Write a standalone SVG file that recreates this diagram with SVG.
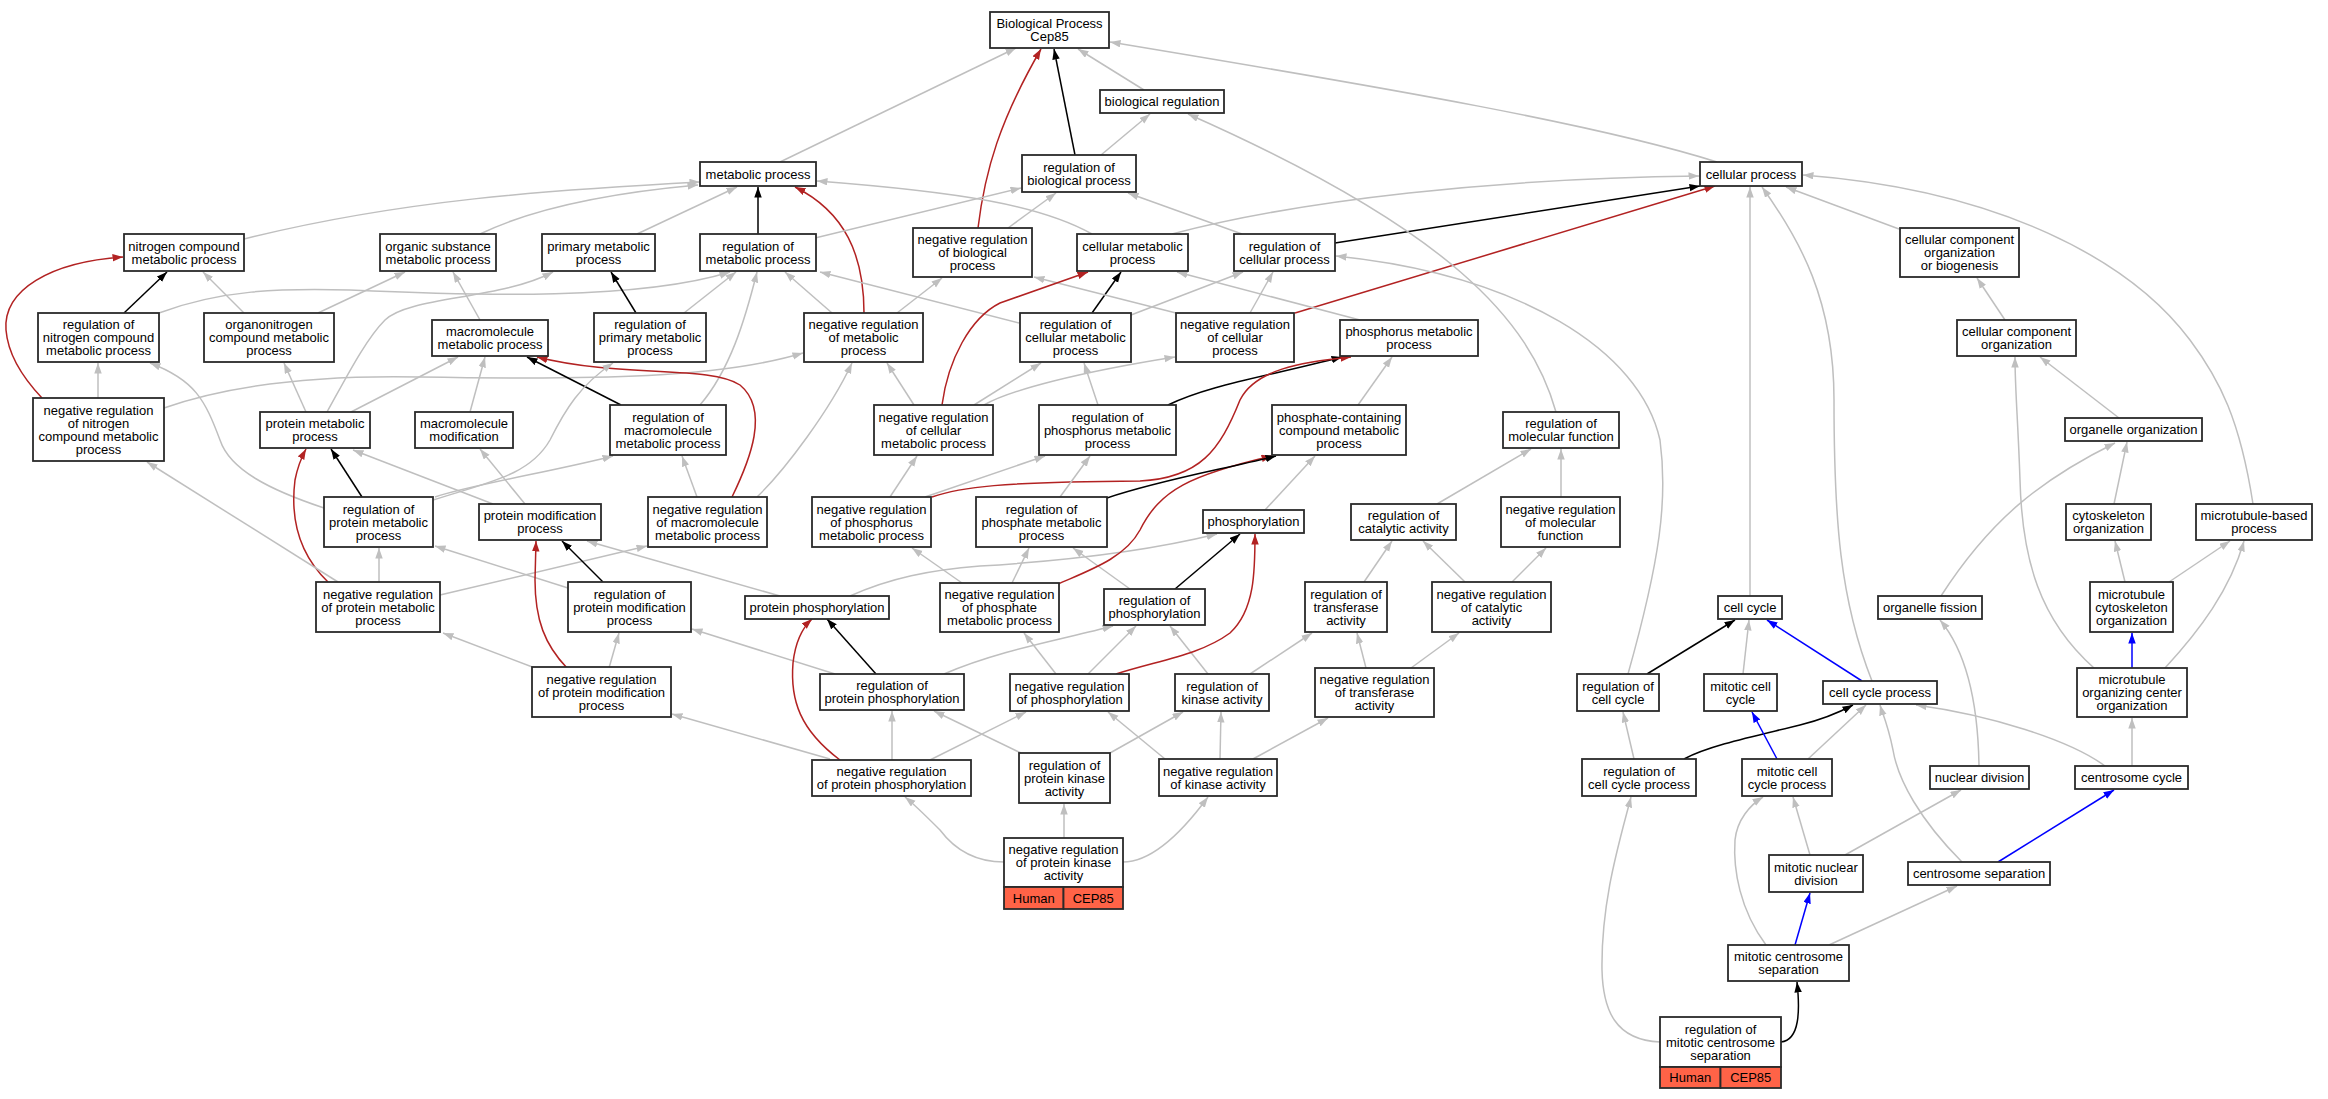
<svg xmlns="http://www.w3.org/2000/svg" width="2328" height="1099" viewBox="0 0 2328 1099">
<style>
.n rect{fill:#fff;stroke:#2a2a2a;stroke-width:1.8}
.n text{font-family:"Liberation Sans",Arial,sans-serif;font-size:13px;text-anchor:middle;fill:#000}
.n rect.hl{fill:#ff6347}
#edges path{fill:none;stroke-width:1.5}
#edges .g{stroke:#bfbfbf;marker-end:url(#ag)}
#edges .k{stroke:#000;marker-end:url(#ak)}
#edges .r{stroke:#b22222;marker-end:url(#ar)}
#edges .b{stroke:#0000ff;marker-end:url(#ab)}
</style>
<defs>
<marker id="ag" markerUnits="userSpaceOnUse" markerWidth="11" markerHeight="8" refX="10.5" refY="3.75" orient="auto"><path d="M0,0 L10.5,3.75 L0,7.5 z" fill="#bfbfbf"/></marker>
<marker id="ak" markerUnits="userSpaceOnUse" markerWidth="11" markerHeight="8" refX="10.5" refY="3.75" orient="auto"><path d="M0,0 L10.5,3.75 L0,7.5 z" fill="#000"/></marker>
<marker id="ar" markerUnits="userSpaceOnUse" markerWidth="11" markerHeight="8" refX="10.5" refY="3.75" orient="auto"><path d="M0,0 L10.5,3.75 L0,7.5 z" fill="#b22222"/></marker>
<marker id="ab" markerUnits="userSpaceOnUse" markerWidth="11" markerHeight="8" refX="10.5" refY="3.75" orient="auto"><path d="M0,0 L10.5,3.75 L0,7.5 z" fill="#0000ff"/></marker>
</defs>
<rect width="2328" height="1099" fill="#fff"/>
<g id="edges">
<path class="g" d="M780,162 L1016,48"/>
<path class="r" d="M978,228 C985,170 1000,120 1041,49"/>
<path class="k" d="M1075,155 L1054,49"/>
<path class="g" d="M1144,90 L1078,49"/>
<path class="g" d="M1717,162 C1600,125 1400,90 1110,42"/>
<path class="g" d="M1101,155 L1150,114"/>
<path class="g" d="M1092,234 C1040,205 960,192 817,181"/>
<path class="k" d="M758,234 L758,187"/>
<path class="g" d="M637,234 L737,187"/>
<path class="g" d="M480,234 C540,205 620,192 698,185"/>
<path class="g" d="M244,239 C400,200 550,190 700,182"/>
<path class="r" d="M864,313 C864,255 845,212 795,187"/>
<path class="g" d="M815,238 L1021,188"/>
<path class="g" d="M1008,228 L1056,193"/>
<path class="g" d="M1242,234 L1128,193"/>
<path class="k" d="M1335,243 L1700,186"/>
<path class="g" d="M1172,234 C1300,200 1500,178 1699,176"/>
<path class="g" d="M1899,229 L1786,187"/>
<path class="g" d="M1750,596 L1750,187"/>
<path class="g" d="M1872,681 C1840,600 1834,520 1834,400 C1834,300 1800,240 1762,187"/>
<path class="g" d="M2253,504 C2240,420 2220,380 2190,340 C2130,260 2000,190 1803,175"/>
<path class="k" d="M124,313 L167,272"/>
<path class="g" d="M244,313 L203,272"/>
<path class="g" d="M318,313 L405,272"/>
<path class="g" d="M159,313 C220,290 280,288 350,290 C480,296 640,300 730,272"/>
<path class="g" d="M480,320 L453,272"/>
<path class="g" d="M327,412 C345,380 365,340 385,320 C410,296 500,300 553,272"/>
<path class="k" d="M636,313 L611,272"/>
<path class="g" d="M684,313 L736,272"/>
<path class="g" d="M700,405 C730,370 745,320 757,272"/>
<path class="g" d="M164,408 C230,385 320,375 420,377 C600,380 720,378 803,353"/>
<path class="g" d="M832,313 L785,272"/>
<path class="g" d="M897,313 L942,278"/>
<path class="g" d="M1019,323 L820,272"/>
<path class="k" d="M1092,313 L1121,272"/>
<path class="g" d="M1131,315 L1243,272"/>
<path class="g" d="M1176,313 L1034,277"/>
<path class="g" d="M1250,313 L1273,272"/>
<path class="r" d="M1295,313 L1715,186"/>
<path class="g" d="M1360,320 L1177,272"/>
<path class="r" d="M942,405 C948,360 970,318 1000,303 L1088,272"/>
<path class="g" d="M914,405 L887,363"/>
<path class="g" d="M974,405 L1041,363"/>
<path class="g" d="M984,405 C1010,390 1080,372 1175,357"/>
<path class="g" d="M1098,405 L1084,363"/>
<path class="k" d="M1168,405 C1210,385 1260,378 1342,357"/>
<path class="g" d="M1358,405 L1392,357"/>
<path class="r" d="M932,497 C960,487 1000,482 1140,481 C1200,478 1220,450 1240,400 C1255,370 1300,362 1351,357"/>
<path class="g" d="M1556,412 C1530,320 1450,230 1188,114"/>
<path class="g" d="M1628,674 C1660,560 1668,500 1660,440 C1640,350 1520,275 1336,256"/>
<path class="g" d="M98,398 L98,363"/>
<path class="r" d="M42,398 C25,380 8,355 6,330 C3,290 50,262 123,257"/>
<path class="g" d="M306,412 L284,363"/>
<path class="g" d="M351,412 L458,357"/>
<path class="g" d="M470,412 L485,357"/>
<path class="k" d="M621,405 L527,357"/>
<path class="r" d="M732,497 C750,460 770,410 740,385 C710,365 620,378 537,357"/>
<path class="g" d="M697,497 L682,456"/>
<path class="g" d="M757,497 C785,470 830,410 852,363"/>
<path class="g" d="M435,497 C470,485 560,470 613,456"/>
<path class="g" d="M433,500 C490,482 530,475 550,440 C565,410 580,385 613,363"/>
<path class="k" d="M362,497 L331,449"/>
<path class="g" d="M324,508 C270,490 230,470 220,440 C205,400 195,380 150,363"/>
<path class="g" d="M493,504 L353,450"/>
<path class="g" d="M525,504 L480,449"/>
<path class="g" d="M379,582 L379,548"/>
<path class="r" d="M328,582 C300,555 290,520 295,480 C297,470 300,460 306,449"/>
<path class="g" d="M338,582 L147,462"/>
<path class="g" d="M440,595 L647,546"/>
<path class="k" d="M603,582 L562,541"/>
<path class="g" d="M568,588 L435,546"/>
<path class="g" d="M609,668 L619,633"/>
<path class="r" d="M567,668 C545,645 535,620 535,580 L536,541"/>
<path class="g" d="M535,668 L443,633"/>
<path class="g" d="M835,674 L692,629"/>
<path class="g" d="M780,596 L587,541"/>
<path class="g" d="M850,596 C890,578 930,570 980,566 C1080,560 1160,548 1217,534"/>
<path class="k" d="M876,674 L827,619"/>
<path class="r" d="M840,760 C800,730 790,700 793,663 C795,645 800,630 812,619"/>
<path class="g" d="M892,760 L892,711"/>
<path class="g" d="M830,759 L672,714"/>
<path class="g" d="M930,760 L1026,712"/>
<path class="g" d="M1021,753 L934,711"/>
<path class="g" d="M1110,753 L1183,712"/>
<path class="g" d="M1165,759 L1108,712"/>
<path class="g" d="M1220,759 L1221,712"/>
<path class="g" d="M1253,759 L1328,718"/>
<path class="g" d="M1250,674 L1312,633"/>
<path class="g" d="M1208,674 L1170,626"/>
<path class="g" d="M1088,674 L1136,626"/>
<path class="r" d="M1116,674 C1160,660 1200,655 1230,633 C1255,610 1255,570 1255,534"/>
<path class="g" d="M1056,674 L1024,633"/>
<path class="g" d="M944,674 C1000,650 1060,640 1113,626"/>
<path class="k" d="M1175,589 L1240,534"/>
<path class="g" d="M1130,589 L1073,548"/>
<path class="g" d="M1012,583 L1029,548"/>
<path class="g" d="M962,583 L912,548"/>
<path class="r" d="M1058,584 C1090,570 1125,558 1140,530 C1160,490 1190,475 1272,456"/>
<path class="k" d="M1107,498 C1160,480 1220,470 1276,456"/>
<path class="g" d="M1060,497 L1090,456"/>
<path class="g" d="M890,497 L917,456"/>
<path class="g" d="M925,497 L1045,456"/>
<path class="g" d="M1265,510 L1315,456"/>
<path class="g" d="M1437,504 L1531,449"/>
<path class="g" d="M1561,497 L1561,449"/>
<path class="g" d="M1364,582 L1392,541"/>
<path class="g" d="M1465,582 L1423,541"/>
<path class="g" d="M1512,582 L1546,548"/>
<path class="g" d="M1366,668 L1357,633"/>
<path class="g" d="M1411,668 L1459,633"/>
<path class="g" d="M1004,862 C975,862 955,850 940,830 C925,815 915,805 905,797"/>
<path class="g" d="M1064,838 L1064,804"/>
<path class="g" d="M1123,862 C1150,862 1180,835 1208,797"/>
<path class="g" d="M2119,418 L2040,357"/>
<path class="g" d="M2094,668 C2040,620 2022,560 2020,480 C2018,420 2015,390 2015,357"/>
<path class="g" d="M2005,320 L1977,278"/>
<path class="g" d="M2114,504 L2127,442"/>
<path class="g" d="M1941,596 C1990,520 2040,480 2115,443"/>
<path class="g" d="M2125,582 L2115,541"/>
<path class="g" d="M2169,582 L2230,541"/>
<path class="b" d="M2132,668 L2132,633"/>
<path class="g" d="M2165,668 C2200,630 2230,590 2244,541"/>
<path class="g" d="M2132,766 L2132,718"/>
<path class="b" d="M1862,681 L1767,620"/>
<path class="k" d="M1647,674 L1735,620"/>
<path class="g" d="M1743,674 L1749,620"/>
<path class="k" d="M1684,759 C1710,745 1760,735 1800,725 C1820,720 1840,712 1853,705"/>
<path class="g" d="M1634,759 L1623,712"/>
<path class="b" d="M1777,759 L1752,712"/>
<path class="g" d="M1808,759 L1866,705"/>
<path class="g" d="M1979,766 C1978,700 1965,650 1940,620"/>
<path class="g" d="M2105,766 C2070,740 1990,715 1916,705"/>
<path class="g" d="M1962,862 C1920,820 1898,780 1893,750 C1888,725 1882,712 1880,705"/>
<path class="b" d="M1998,862 L2114,790"/>
<path class="g" d="M1810,855 L1793,797"/>
<path class="g" d="M1845,855 L1961,790"/>
<path class="b" d="M1795,945 L1810,893"/>
<path class="g" d="M1829,945 L1957,886"/>
<path class="g" d="M1766,945 C1740,910 1733,870 1735,840 C1737,820 1750,805 1763,797"/>
<path class="k" d="M1781,1042 C1800,1040 1800,1010 1797,982"/>
<path class="g" d="M1660,1042 C1615,1040 1603,1010 1602,970 C1601,900 1620,840 1631,797"/>
</g>
<g id="bp" class="n"><rect x="990" y="12" width="119" height="36"/><text><tspan x="1049.5" y="28">Biological Process</tspan><tspan x="1049.5" y="41">Cep85</tspan></text></g>
<g id="breg" class="n"><rect x="1100" y="90" width="124" height="23"/><text><tspan x="1162" y="106">biological regulation</tspan></text></g>
<g id="met" class="n"><rect x="700" y="162" width="116" height="24"/><text><tspan x="758" y="178.5">metabolic process</tspan></text></g>
<g id="rbp" class="n"><rect x="1022" y="155" width="114" height="37"/><text><tspan x="1079" y="171.5">regulation of</tspan><tspan x="1079" y="184.5">biological process</tspan></text></g>
<g id="cp" class="n"><rect x="1700" y="162" width="102" height="24"/><text><tspan x="1751" y="178.5">cellular process</tspan></text></g>
<g id="ncm" class="n"><rect x="124" y="234" width="120" height="37"/><text><tspan x="184" y="250.5">nitrogen compound</tspan><tspan x="184" y="263.5">metabolic process</tspan></text></g>
<g id="osm" class="n"><rect x="380" y="234" width="116" height="37"/><text><tspan x="438" y="250.5">organic substance</tspan><tspan x="438" y="263.5">metabolic process</tspan></text></g>
<g id="pm" class="n"><rect x="542" y="234" width="113" height="37"/><text><tspan x="598.5" y="250.5">primary metabolic</tspan><tspan x="598.5" y="263.5">process</tspan></text></g>
<g id="rm" class="n"><rect x="700" y="234" width="116" height="37"/><text><tspan x="758" y="250.5">regulation of</tspan><tspan x="758" y="263.5">metabolic process</tspan></text></g>
<g id="nrbp" class="n"><rect x="913" y="228" width="119" height="49"/><text><tspan x="972.5" y="244">negative regulation</tspan><tspan x="972.5" y="257">of biological</tspan><tspan x="972.5" y="270">process</tspan></text></g>
<g id="cm" class="n"><rect x="1077" y="234" width="111" height="37"/><text><tspan x="1132.5" y="250.5">cellular metabolic</tspan><tspan x="1132.5" y="263.5">process</tspan></text></g>
<g id="rcp" class="n"><rect x="1234" y="234" width="101" height="37"/><text><tspan x="1284.5" y="250.5">regulation of</tspan><tspan x="1284.5" y="263.5">cellular process</tspan></text></g>
<g id="ccob" class="n"><rect x="1900" y="228" width="119" height="49"/><text><tspan x="1959.5" y="244">cellular component</tspan><tspan x="1959.5" y="257">organization</tspan><tspan x="1959.5" y="270">or biogenesis</tspan></text></g>
<g id="rncm" class="n"><rect x="38" y="313" width="121" height="49"/><text><tspan x="98.5" y="329">regulation of</tspan><tspan x="98.5" y="342">nitrogen compound</tspan><tspan x="98.5" y="355">metabolic process</tspan></text></g>
<g id="oncm" class="n"><rect x="204" y="313" width="130" height="49"/><text><tspan x="269" y="329">organonitrogen</tspan><tspan x="269" y="342">compound metabolic</tspan><tspan x="269" y="355">process</tspan></text></g>
<g id="mm" class="n"><rect x="432" y="320" width="116" height="36"/><text><tspan x="490" y="336">macromolecule</tspan><tspan x="490" y="349">metabolic process</tspan></text></g>
<g id="rpm" class="n"><rect x="594" y="313" width="112" height="49"/><text><tspan x="650" y="329">regulation of</tspan><tspan x="650" y="342">primary metabolic</tspan><tspan x="650" y="355">process</tspan></text></g>
<g id="nrm" class="n"><rect x="804" y="313" width="119" height="49"/><text><tspan x="863.5" y="329">negative regulation</tspan><tspan x="863.5" y="342">of metabolic</tspan><tspan x="863.5" y="355">process</tspan></text></g>
<g id="rcm" class="n"><rect x="1020" y="313" width="111" height="49"/><text><tspan x="1075.5" y="329">regulation of</tspan><tspan x="1075.5" y="342">cellular metabolic</tspan><tspan x="1075.5" y="355">process</tspan></text></g>
<g id="nrcp" class="n"><rect x="1176" y="313" width="118" height="49"/><text><tspan x="1235" y="329">negative regulation</tspan><tspan x="1235" y="342">of cellular</tspan><tspan x="1235" y="355">process</tspan></text></g>
<g id="phm" class="n"><rect x="1340" y="320" width="138" height="36"/><text><tspan x="1409" y="336">phosphorus metabolic</tspan><tspan x="1409" y="349">process</tspan></text></g>
<g id="cco" class="n"><rect x="1957" y="320" width="119" height="36"/><text><tspan x="2016.5" y="336">cellular component</tspan><tspan x="2016.5" y="349">organization</tspan></text></g>
<g id="nrncm" class="n"><rect x="33" y="398" width="131" height="63"/><text><tspan x="98.5" y="414.5">negative regulation</tspan><tspan x="98.5" y="427.5">of nitrogen</tspan><tspan x="98.5" y="440.5">compound metabolic</tspan><tspan x="98.5" y="453.5">process</tspan></text></g>
<g id="prm" class="n"><rect x="260" y="412" width="110" height="36"/><text><tspan x="315" y="428">protein metabolic</tspan><tspan x="315" y="441">process</tspan></text></g>
<g id="mmod" class="n"><rect x="415" y="412" width="98" height="36"/><text><tspan x="464" y="428">macromolecule</tspan><tspan x="464" y="441">modification</tspan></text></g>
<g id="rmm" class="n"><rect x="610" y="405" width="116" height="50"/><text><tspan x="668" y="421.5">regulation of</tspan><tspan x="668" y="434.5">macromolecule</tspan><tspan x="668" y="447.5">metabolic process</tspan></text></g>
<g id="nrcm" class="n"><rect x="874" y="405" width="119" height="50"/><text><tspan x="933.5" y="421.5">negative regulation</tspan><tspan x="933.5" y="434.5">of cellular</tspan><tspan x="933.5" y="447.5">metabolic process</tspan></text></g>
<g id="rphm" class="n"><rect x="1039" y="405" width="137" height="50"/><text><tspan x="1107.5" y="421.5">regulation of</tspan><tspan x="1107.5" y="434.5">phosphorus metabolic</tspan><tspan x="1107.5" y="447.5">process</tspan></text></g>
<g id="pccm" class="n"><rect x="1272" y="405" width="134" height="50"/><text><tspan x="1339" y="421.5">phosphate-containing</tspan><tspan x="1339" y="434.5">compound metabolic</tspan><tspan x="1339" y="447.5">process</tspan></text></g>
<g id="rmf" class="n"><rect x="1503" y="412" width="116" height="36"/><text><tspan x="1561" y="428">regulation of</tspan><tspan x="1561" y="441">molecular function</tspan></text></g>
<g id="oo" class="n"><rect x="2065" y="418" width="137" height="23"/><text><tspan x="2133.5" y="434">organelle organization</tspan></text></g>
<g id="rprm" class="n"><rect x="324" y="497" width="109" height="50"/><text><tspan x="378.5" y="513.5">regulation of</tspan><tspan x="378.5" y="526.5">protein metabolic</tspan><tspan x="378.5" y="539.5">process</tspan></text></g>
<g id="pmp" class="n"><rect x="479" y="504" width="122" height="36"/><text><tspan x="540" y="520">protein modification</tspan><tspan x="540" y="533">process</tspan></text></g>
<g id="nrmm" class="n"><rect x="648" y="497" width="119" height="50"/><text><tspan x="707.5" y="513.5">negative regulation</tspan><tspan x="707.5" y="526.5">of macromolecule</tspan><tspan x="707.5" y="539.5">metabolic process</tspan></text></g>
<g id="nrphm" class="n"><rect x="812" y="497" width="119" height="50"/><text><tspan x="871.5" y="513.5">negative regulation</tspan><tspan x="871.5" y="526.5">of phosphorus</tspan><tspan x="871.5" y="539.5">metabolic process</tspan></text></g>
<g id="rpham" class="n"><rect x="976" y="497" width="131" height="50"/><text><tspan x="1041.5" y="513.5">regulation of</tspan><tspan x="1041.5" y="526.5">phosphate metabolic</tspan><tspan x="1041.5" y="539.5">process</tspan></text></g>
<g id="phos" class="n"><rect x="1203" y="510" width="101" height="23"/><text><tspan x="1253.5" y="526">phosphorylation</tspan></text></g>
<g id="rca" class="n"><rect x="1351" y="504" width="105" height="36"/><text><tspan x="1403.5" y="520">regulation of</tspan><tspan x="1403.5" y="533">catalytic activity</tspan></text></g>
<g id="nrmf" class="n"><rect x="1501" y="497" width="119" height="50"/><text><tspan x="1560.5" y="513.5">negative regulation</tspan><tspan x="1560.5" y="526.5">of molecular</tspan><tspan x="1560.5" y="539.5">function</tspan></text></g>
<g id="cso" class="n"><rect x="2066" y="504" width="85" height="36"/><text><tspan x="2108.5" y="520">cytoskeleton</tspan><tspan x="2108.5" y="533">organization</tspan></text></g>
<g id="mbp" class="n"><rect x="2196" y="504" width="116" height="36"/><text><tspan x="2254" y="520">microtubule-based</tspan><tspan x="2254" y="533">process</tspan></text></g>
<g id="nrprm" class="n"><rect x="316" y="582" width="124" height="50"/><text><tspan x="378" y="598.5">negative regulation</tspan><tspan x="378" y="611.5">of protein metabolic</tspan><tspan x="378" y="624.5">process</tspan></text></g>
<g id="rpmp" class="n"><rect x="568" y="582" width="123" height="50"/><text><tspan x="629.5" y="598.5">regulation of</tspan><tspan x="629.5" y="611.5">protein modification</tspan><tspan x="629.5" y="624.5">process</tspan></text></g>
<g id="pp" class="n"><rect x="745" y="596" width="144" height="23"/><text><tspan x="817" y="612">protein phosphorylation</tspan></text></g>
<g id="nrpham" class="n"><rect x="940" y="583" width="119" height="49"/><text><tspan x="999.5" y="599">negative regulation</tspan><tspan x="999.5" y="612">of phosphate</tspan><tspan x="999.5" y="625">metabolic process</tspan></text></g>
<g id="rphos" class="n"><rect x="1104" y="589" width="101" height="36"/><text><tspan x="1154.5" y="605">regulation of</tspan><tspan x="1154.5" y="618">phosphorylation</tspan></text></g>
<g id="rta" class="n"><rect x="1305" y="582" width="82" height="50"/><text><tspan x="1346" y="598.5">regulation of</tspan><tspan x="1346" y="611.5">transferase</tspan><tspan x="1346" y="624.5">activity</tspan></text></g>
<g id="nrca" class="n"><rect x="1432" y="582" width="119" height="50"/><text><tspan x="1491.5" y="598.5">negative regulation</tspan><tspan x="1491.5" y="611.5">of catalytic</tspan><tspan x="1491.5" y="624.5">activity</tspan></text></g>
<g id="cc" class="n"><rect x="1718" y="596" width="64" height="23"/><text><tspan x="1750" y="612">cell cycle</tspan></text></g>
<g id="of" class="n"><rect x="1878" y="596" width="104" height="23"/><text><tspan x="1930" y="612">organelle fission</tspan></text></g>
<g id="mco" class="n"><rect x="2090" y="582" width="83" height="50"/><text><tspan x="2131.5" y="598.5">microtubule</tspan><tspan x="2131.5" y="611.5">cytoskeleton</tspan><tspan x="2131.5" y="624.5">organization</tspan></text></g>
<g id="nrpmp" class="n"><rect x="532" y="667" width="139" height="50"/><text><tspan x="601.5" y="683.5">negative regulation</tspan><tspan x="601.5" y="696.5">of protein modification</tspan><tspan x="601.5" y="709.5">process</tspan></text></g>
<g id="rpp" class="n"><rect x="820" y="674" width="144" height="36"/><text><tspan x="892" y="690">regulation of</tspan><tspan x="892" y="703">protein phosphorylation</tspan></text></g>
<g id="nrphos" class="n"><rect x="1010" y="674" width="119" height="37"/><text><tspan x="1069.5" y="690.5">negative regulation</tspan><tspan x="1069.5" y="703.5">of phosphorylation</tspan></text></g>
<g id="rka" class="n"><rect x="1175" y="674" width="94" height="37"/><text><tspan x="1222" y="690.5">regulation of</tspan><tspan x="1222" y="703.5">kinase activity</tspan></text></g>
<g id="nrta" class="n"><rect x="1315" y="668" width="119" height="49"/><text><tspan x="1374.5" y="684">negative regulation</tspan><tspan x="1374.5" y="697">of transferase</tspan><tspan x="1374.5" y="710">activity</tspan></text></g>
<g id="rcc" class="n"><rect x="1577" y="674" width="82" height="37"/><text><tspan x="1618" y="690.5">regulation of</tspan><tspan x="1618" y="703.5">cell cycle</tspan></text></g>
<g id="mcc" class="n"><rect x="1704" y="674" width="73" height="37"/><text><tspan x="1740.5" y="690.5">mitotic cell</tspan><tspan x="1740.5" y="703.5">cycle</tspan></text></g>
<g id="ccp" class="n"><rect x="1823" y="681" width="114" height="23"/><text><tspan x="1880" y="697">cell cycle process</tspan></text></g>
<g id="mtoc" class="n"><rect x="2077" y="668" width="110" height="49"/><text><tspan x="2132" y="684">microtubule</tspan><tspan x="2132" y="697">organizing center</tspan><tspan x="2132" y="710">organization</tspan></text></g>
<g id="nrpp" class="n"><rect x="812" y="760" width="159" height="36"/><text><tspan x="891.5" y="776">negative regulation</tspan><tspan x="891.5" y="789">of protein phosphorylation</tspan></text></g>
<g id="rpka" class="n"><rect x="1019" y="753" width="91" height="50"/><text><tspan x="1064.5" y="769.5">regulation of</tspan><tspan x="1064.5" y="782.5">protein kinase</tspan><tspan x="1064.5" y="795.5">activity</tspan></text></g>
<g id="nrka" class="n"><rect x="1159" y="759" width="118" height="37"/><text><tspan x="1218" y="775.5">negative regulation</tspan><tspan x="1218" y="788.5">of kinase activity</tspan></text></g>
<g id="rccp" class="n"><rect x="1582" y="759" width="114" height="37"/><text><tspan x="1639" y="775.5">regulation of</tspan><tspan x="1639" y="788.5">cell cycle process</tspan></text></g>
<g id="mccp" class="n"><rect x="1742" y="759" width="90" height="37"/><text><tspan x="1787" y="775.5">mitotic cell</tspan><tspan x="1787" y="788.5">cycle process</tspan></text></g>
<g id="nd" class="n"><rect x="1930" y="766" width="99" height="23"/><text><tspan x="1979.5" y="782">nuclear division</tspan></text></g>
<g id="ccy" class="n"><rect x="2075" y="766" width="113" height="23"/><text><tspan x="2131.5" y="782">centrosome cycle</tspan></text></g>
<g id="mnd" class="n"><rect x="1769" y="855" width="94" height="37"/><text><tspan x="1816" y="871.5">mitotic nuclear</tspan><tspan x="1816" y="884.5">division</tspan></text></g>
<g id="cs" class="n"><rect x="1908" y="862" width="142" height="23"/><text><tspan x="1979" y="878">centrosome separation</tspan></text></g>
<g id="nrpka" class="n"><rect x="1004" y="838" width="119" height="49"/><rect class="hl" x="1004" y="887" width="59.5" height="22"/><rect class="hl" x="1063.5" y="887" width="59.5" height="22"/><text><tspan x="1063.5" y="854">negative regulation</tspan><tspan x="1063.5" y="867">of protein kinase</tspan><tspan x="1063.5" y="880">activity</tspan></text><text><tspan x="1033.75" y="902.5">Human</tspan><tspan x="1093.25" y="902.5">CEP85</tspan></text></g>
<g id="mcs" class="n"><rect x="1728" y="945" width="121" height="36"/><text><tspan x="1788.5" y="961">mitotic centrosome</tspan><tspan x="1788.5" y="974">separation</tspan></text></g>
<g id="rmcs" class="n"><rect x="1660" y="1017" width="121" height="50"/><rect class="hl" x="1660" y="1067" width="60.5" height="21"/><rect class="hl" x="1720.5" y="1067" width="60.5" height="21"/><text><tspan x="1720.5" y="1033.5">regulation of</tspan><tspan x="1720.5" y="1046.5">mitotic centrosome</tspan><tspan x="1720.5" y="1059.5">separation</tspan></text><text><tspan x="1690.25" y="1082">Human</tspan><tspan x="1750.75" y="1082">CEP85</tspan></text></g>
</svg>
